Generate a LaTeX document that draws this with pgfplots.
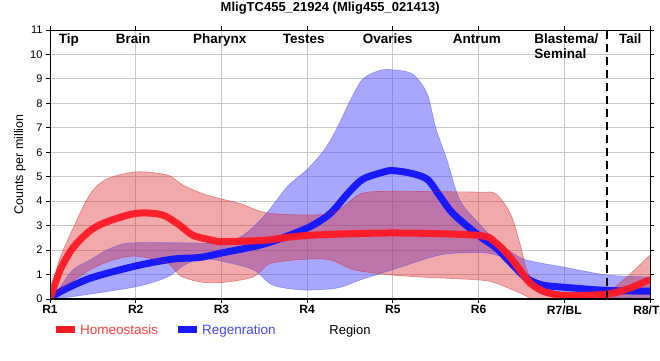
\documentclass[border=0pt]{standalone}
\usepackage{pgfplots}
\pgfplotsset{compat=1.18}
\usepgfplotslibrary{fillbetween}
\usepackage{fontspec}
\setmainfont{Liberation Sans}
\definecolor{rband}{RGB}{220,40,40}
\definecolor{bband}{RGB}{80,80,255}
\definecolor{rline}{RGB}{255,25,35}
\definecolor{bline}{RGB}{25,25,255}
\definecolor{rtext}{RGB}{255,60,60}
\definecolor{btext}{RGB}{70,70,255}
\begin{document}
\begin{tikzpicture}[x=1pt,y=1pt]
\begin{axis}[
  at={(50pt,61pt)}, anchor=south west, scale only axis,
  width=600pt, height=269pt,
  xmin=0, xmax=7, ymin=0, ymax=11,
  xtick={0,1,2,3,4,5,6,7},
  xticklabels={R1,R2,R3,R4,R5,R6,R7/BL,R8/TL},
  ytick={0,1,2,3,4,5,6,7,8,9,10,11},
  grid=major, grid style={color=black!22, line width=0.9pt},
  tick align=outside, major tick length=4pt,
  tick style={black, line width=1pt},
  axis line style={black, line width=1pt},
  x tick label style={font=\bfseries\fontsize{12}{13}\selectfont, yshift=1pt},
  y tick label style={font=\fontsize{11}{12}\selectfont},
  /pgf/number format/assume math mode=true,
  xlabel={Region},
  xlabel style={at={(axis description cs:0.5,-0.118)}, anchor=center, font=\fontsize{13}{14}\selectfont},
  ylabel={Counts per million},
  ylabel style={at={(axis description cs:-0.05,0.5)}, anchor=center, font=\fontsize{12.5}{14}\selectfont},
  every axis title shift=0pt,
  title={MligTC455\_21924 (Mlig455\_021413)},
  title style={at={(axis description cs:0.467,1.082)}, anchor=center, font=\bfseries\fontsize{13}{14}\selectfont},
  legend style={at={(axis description cs:0.003,-0.115)}, anchor=west, draw=none, fill=none,
    legend columns=2, /tikz/every even column/.append style={column sep=14pt},
    font=\fontsize{13.5}{14}\selectfont, inner sep=0pt},
  legend image code/.code={\draw[#1] (0pt,0pt) -- (19pt,0pt);},
  clip=true,
]
\addlegendimage{rline, line width=7pt}
\addlegendimage{bline, line width=7pt}
\legend{\textcolor{rtext}{Homeostasis},\textcolor{btext}{Regenration}}

% blue band
\addplot[name path=bu, smooth, draw=bband, draw opacity=0.5, line width=0.6pt] coordinates {
(0,0) (0.12,0.5) (0.27,1.2) (0.47,1.6) (0.66,2.0) (0.85,2.25) (1,2.3) (1.5,2.3) (2,2.3) (2.25,2.6) (2.5,3.4) (2.77,4.6) (3.0,5.3) (3.2,6.1) (3.35,7.0) (3.5,8.1) (3.65,9.0) (3.85,9.35) (4,9.37) (4.23,9.2) (4.4,8.4) (4.5,7.0) (4.63,5.7) (4.78,4.05) (5,3.1) (5.2,2.4) (5.48,1.7) (5.68,1.5) (6,1.3) (6.5,0.98) (7,0.9)};
\addplot[name path=bl, smooth, draw=bband, draw opacity=0.5, line width=0.6pt] coordinates {
(0,0) (0.27,0.1) (1,0.5) (1.37,0.9) (1.55,1.35) (1.75,1.65) (2,1.55) (2.37,1.2) (2.6,0.57) (2.95,0.37) (3.35,0.45) (3.62,0.78) (4,1.2) (4.55,1.8) (5,1.9) (5.2,1.8) (5.45,1.5) (5.68,0.3) (6,0.1) (7,0.05)};
\addplot[fill=bband, fill opacity=0.5, draw=none] fill between[of=bu and bl];
% blue mean
\addplot[smooth, bline, line width=7pt] coordinates {
(0,0) (0.12,0.3) (0.47,0.85) (1,1.35) (1.43,1.63) (1.75,1.7) (2,1.88) (2.5,2.25) (3,2.9) (3.27,3.5) (3.47,4.3) (3.65,4.9) (3.9,5.2) (4,5.25) (4.2,5.15) (4.4,4.9) (4.55,4.2) (4.7,3.5) (5,2.6) (5.2,2.1) (5.37,1.5) (5.56,0.85) (5.75,0.57) (6,0.48) (6.5,0.35) (7,0.32)};

% red band
\addplot[name path=ru, smooth, draw=rband, draw opacity=0.5, line width=0.6pt] coordinates {
(0,0) (0.1,1.5) (0.27,2.9) (0.47,4.3) (0.66,4.9) (1,5.2) (1.37,5.07) (1.55,4.66) (1.83,4.25) (2.22,3.9) (2.57,3.5) (3.27,3.5) (3.62,4.3) (3.93,4.4) (4.2,4.4) (5,4.37) (5.2,4.3) (5.37,3.5) (5.48,2.3) (5.56,1.2) (5.68,0.5) (5.83,0.25) (6.2,0.2) (6.5,0.3) (6.73,0.9) (7,1.8)};
\addplot[name path=rl, smooth, draw=rband, draw opacity=0.5, line width=0.6pt] coordinates {
(0,0) (0.12,0.37) (0.47,1.2) (0.74,1.6) (1,1.75) (1.37,1.47) (1.52,0.95) (1.75,0.7) (2,0.67) (2.37,0.9) (2.57,1.45) (3,1.63) (3.27,1.6) (3.54,1.2) (3.93,1.0) (4.32,0.9) (5,0.78) (5.2,0.65) (5.48,0.25) (5.68,-0.05) (6,-0.1) (6.5,0.05) (7,0)};
\addplot[fill=rband, fill opacity=0.4, draw=none] fill between[of=ru and rl];
% red mean
\addplot[smooth, rline, line width=7pt, opacity=0.95] coordinates {
(0,0) (0.12,1.2) (0.27,2.1) (0.47,2.8) (0.66,3.15) (1,3.5) (1.3,3.45) (1.5,3.05) (1.67,2.6) (1.9,2.4) (2,2.35) (2.5,2.4) (3,2.6) (4,2.7) (5,2.6) (5.2,2.3) (5.37,1.7) (5.48,1.2) (5.6,0.65) (5.77,0.3) (6,0.15) (6.5,0.2) (6.77,0.45) (7,0.8)};

% dashed separator
\addplot[black, line width=2.4pt, dash pattern=on 8pt off 5pt] coordinates {(6.5,0) (6.5,11)};

% region labels
\begin{scope}[every node/.style={font=\bfseries\fontsize{13.5}{14}\selectfont, inner sep=0pt}]
\node[anchor=base] at (axis cs:0.22,10.43) {Tip};
\node[anchor=base] at (axis cs:0.97,10.43) {Brain};
\node[anchor=base] at (axis cs:1.98,10.43) {Pharynx};
\node[anchor=base] at (axis cs:2.96,10.43) {Testes};
\node[anchor=base] at (axis cs:3.94,10.43) {Ovaries};
\node[anchor=base] at (axis cs:4.98,10.43) {Antrum};
\node[anchor=base west] at (axis cs:5.65,10.43) {Blastema/};
\node[anchor=base west] at (axis cs:5.65,9.82) {Seminal};
\node[anchor=base] at (axis cs:6.77,10.43) {Tail};
\end{scope}
% thick left and bottom spines
\draw[black, line width=2.6pt] (rel axis cs:0,1) -- (rel axis cs:0,0) -- (rel axis cs:1,0);
\end{axis}
\pgfresetboundingbox
\path[use as bounding box] (0,0) rectangle (660,360);
\end{tikzpicture}
\end{document}
